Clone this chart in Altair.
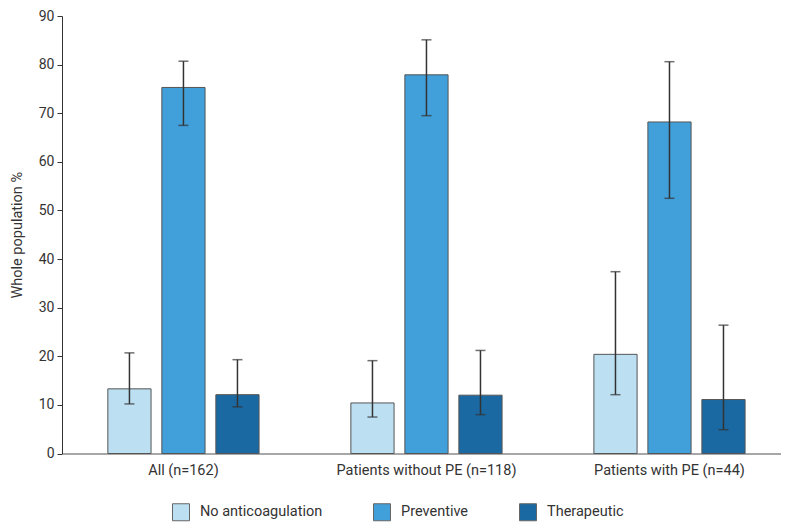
import altair as alt
import pandas as pd

groups = ["All (n=162)", "Patients without PE (n=118)", "Patients with PE (n=44)"]
categories = ["No anticoagulation", "Preventive", "Therapeutic"]

no_ac = [13.3, 10.4, 20.4]
no_ac_lo = [10.2, 7.5, 12.1]
no_ac_hi = [20.7, 19.1, 37.4]

preventive = [75.3, 77.9, 68.2]
preventive_lo = [67.5, 69.5, 52.5]
preventive_hi = [80.7, 85.1, 80.6]

therapeutic = [12.1, 12.0, 11.1]
therapeutic_lo = [9.6, 8.0, 4.9]
therapeutic_hi = [19.3, 21.2, 26.4]

colors = ["#BCE0F2", "#419FDA", "#1A69A2"]

rows = []
for cat, vals, lo, hi in [
    (categories[0], no_ac, no_ac_lo, no_ac_hi),
    (categories[1], preventive, preventive_lo, preventive_hi),
    (categories[2], therapeutic, therapeutic_lo, therapeutic_hi),
]:
    for g, v, l, h in zip(groups, vals, lo, hi):
        rows.append({"group": g, "category": cat, "value": v, "lo": l, "hi": h})
df = pd.DataFrame(rows)

x = alt.X(
    "group:N",
    sort=groups,
    scale=alt.Scale(paddingInner=1 / 3, paddingOuter=0.146, align=0.57),
    axis=alt.Axis(
        title=None,
        labelAngle=0,
        ticks=False,
        domainColor="#8a8a8a",
        domainWidth=1.5,
        labelPadding=10,
        labelFontSize=14.5,
        labelColor="#333333",
    ),
)
xo = alt.XOffset(
    "category:N",
    sort=categories,
    scale=alt.Scale(paddingInner=0.2, paddingOuter=0.1),
)

base = alt.Chart(df)

bars = base.mark_bar(stroke="#555555", strokeWidth=1).encode(
    x=x,
    xOffset=xo,
    y=alt.Y(
        "value:Q",
        scale=alt.Scale(domain=[0, 90], nice=False),
        axis=alt.Axis(
            values=list(range(0, 91, 10)),
            grid=False,
            title="Whole population %",
            titleFontSize=14.5,
            titleFontWeight="normal",
            titleColor="#333333",
            titleX=-45,
            titleBaseline="middle",
            tickSize=5,
            tickColor="#333333",
            domainColor="#333333",
            labelFontSize=14,
            labelColor="#333333",
            labelPadding=3,
        ),
    ),
    color=alt.Color(
        "category:N",
        scale=alt.Scale(domain=categories, range=colors),
        legend=alt.Legend(
            title=None,
            orient="none",
            direction="horizontal",
            legendX=110,
            legendY=487,
            symbolType="square",
            symbolSize=289,
            symbolStrokeColor="#666666",
            symbolStrokeWidth=1,
            symbolOpacity=1,
            labelFontSize=14.5,
            labelColor="#333333",
            labelOffset=10,
            columnPadding=48,
        ),
    ),
)

rules = base.mark_rule(color="#333333", strokeWidth=1.5).encode(
    x=alt.X("group:N", sort=groups),
    xOffset=alt.XOffset("category:N", sort=categories),
    y="lo:Q",
    y2="hi:Q",
)

caps_hi = base.mark_tick(color="#333333", size=10, thickness=1.5).encode(
    x=alt.X("group:N", sort=groups),
    xOffset=alt.XOffset("category:N", sort=categories),
    y="hi:Q",
)
caps_lo = base.mark_tick(color="#333333", size=10, thickness=1.5).encode(
    x=alt.X("group:N", sort=groups),
    xOffset=alt.XOffset("category:N", sort=categories),
    y="lo:Q",
)

chart = (
    alt.layer(bars, rules, caps_hi, caps_lo)
    .properties(
        width=719,
        height=437.5,
        autosize=alt.AutoSizeParams(type="none"),
        padding={"left": 54, "top": 8, "right": 0, "bottom": 68},
    )
    .configure(font="Roboto")
    .configure_view(stroke=None)
)

chart.save("out.html", embed_options={"renderer": "svg", "actions": False})
